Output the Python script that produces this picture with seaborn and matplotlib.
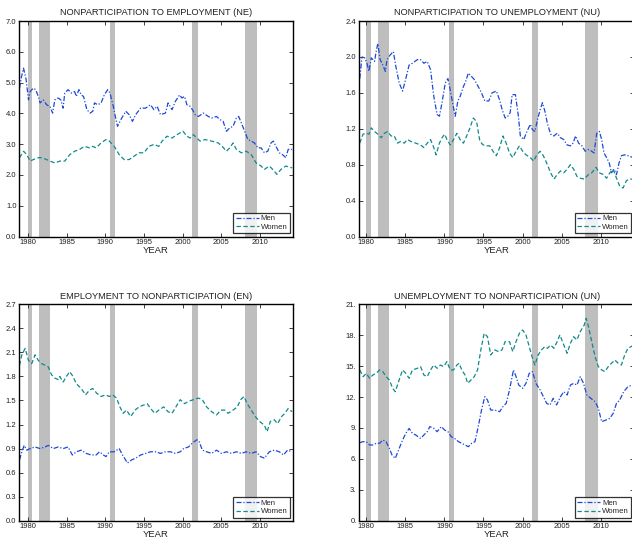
import numpy as np
import pandas as pd
import matplotlib
matplotlib.use('Agg')
import matplotlib.pyplot as plt
import seaborn as sns

# recession bands (years)
recessions = [(1980.0, 1980.55), (1981.5, 1982.9), (1990.55, 1991.25),
              (2001.2, 2001.95), (2008.0, 2009.6)]

# NE: nonparticipation to employment
ne_men_year = [1978.93, 1979.15, 1979.45, 1979.79, 1980.09, 1980.30, 1980.72, 1981.02, 1981.36, 1981.58,
               1982.00, 1982.43, 1982.85, 1983.20, 1983.49, 1983.92, 1984.26, 1984.56, 1984.77, 1985.20,
               1985.62, 1986.05, 1986.26, 1986.60, 1986.90, 1987.20, 1987.63, 1988.05, 1988.39, 1988.61,
               1989.03, 1989.46, 1989.88, 1990.31, 1990.61, 1991.04, 1991.38, 1991.59, 1992.02, 1992.65,
               1993.08, 1993.51, 1993.93, 1994.57, 1995.21, 1995.85, 1996.28, 1996.70, 1997.13, 1997.77,
               1998.11, 1998.62, 1999.05, 1999.60, 1999.90, 2000.24, 2000.54, 2000.96, 2001.26, 2001.60,
               2002.03, 2002.67, 2003.31, 2003.73, 2004.37, 2004.80, 2005.22, 2005.65, 2006.08, 2006.50,
               2006.93, 2007.23, 2007.57, 2008.00, 2008.42, 2008.85, 2009.27, 2009.70, 2010.12, 2010.55,
               2010.98, 2011.40, 2011.70, 2012.04, 2012.47, 2012.89, 2013.32, 2013.62, 2014.13]
ne_men = [4.82, 5.15, 5.47, 5.09, 4.44, 4.71, 4.82, 4.77, 4.55, 4.34,
          4.44, 4.28, 4.23, 4.01, 4.44, 4.50, 4.44, 4.17, 4.66, 4.77,
          4.66, 4.71, 4.55, 4.77, 4.60, 4.55, 4.12, 4.01, 4.07, 4.34,
          4.28, 4.34, 4.60, 4.77, 4.66, 4.23, 3.80, 3.58, 3.80, 4.07,
          3.96, 3.74, 3.96, 4.17, 4.17, 4.28, 4.12, 4.23, 3.96, 4.01,
          4.34, 4.12, 4.39, 4.60, 4.50, 4.55, 4.28, 4.23, 4.12, 3.96,
          3.90, 4.01, 3.90, 3.85, 3.90, 3.80, 3.74, 3.42, 3.53, 3.58,
          3.85, 3.90, 3.69, 3.42, 3.15, 3.10, 3.04, 2.88, 2.88, 2.72,
          2.77, 3.04, 3.10, 2.93, 2.72, 2.66, 2.56, 2.83, 2.83]
ne_women_year = [1978.93, 1979.45, 1979.87, 1980.30, 1980.72, 1981.36, 1981.79, 1982.43, 1982.85, 1983.49,
                 1984.13, 1984.77, 1985.41, 1986.05, 1986.69, 1987.33, 1987.97, 1988.39, 1988.82, 1989.46,
                 1990.10, 1990.52, 1991.16, 1991.80, 1992.44, 1993.08, 1993.72, 1994.36, 1995.00, 1995.64,
                 1996.28, 1996.92, 1997.34, 1997.98, 1998.62, 1999.26, 2000.03, 2000.54, 2000.96, 2001.39,
                 2001.82, 2002.24, 2002.88, 2003.73, 2004.59, 2005.10, 2005.65, 2006.08, 2006.50, 2006.93,
                 2007.57, 2008.21, 2008.85, 2009.48, 2010.12, 2010.55, 2011.19, 2011.62, 2012.17, 2012.68,
                 2013.32, 2014.13]
ne_women = [2.56, 2.77, 2.66, 2.45, 2.50, 2.56, 2.56, 2.50, 2.45, 2.39,
            2.45, 2.45, 2.66, 2.77, 2.83, 2.93, 2.88, 2.93, 2.88, 3.04,
            3.15, 3.10, 2.93, 2.66, 2.50, 2.50, 2.61, 2.72, 2.72, 2.93,
            2.99, 2.93, 3.10, 3.26, 3.20, 3.31, 3.42, 3.26, 3.20, 3.31,
            3.20, 3.10, 3.15, 3.10, 3.04, 2.93, 2.77, 2.88, 3.04, 2.83,
            2.72, 2.77, 2.66, 2.39, 2.29, 2.18, 2.29, 2.18, 2.02, 2.18,
            2.29, 2.23]

# NU: nonparticipation to unemployment
nu_men_year = [1979.16, 1979.45, 1979.79, 1980.08, 1980.34, 1980.63, 1981.05, 1981.26, 1981.47, 1981.77,
               1982.11, 1982.44, 1982.65, 1983.03, 1983.46, 1983.79, 1984.21, 1984.64, 1985.06, 1985.48,
               1985.90, 1986.53, 1986.95, 1987.37, 1987.80, 1988.22, 1988.64, 1989.06, 1989.36, 1989.69,
               1990.11, 1990.45, 1990.75, 1991.04, 1991.38, 1991.72, 1992.01, 1992.43, 1992.73, 1993.06,
               1993.49, 1993.82, 1994.33, 1994.75, 1995.17, 1995.68, 1996.10, 1996.65, 1997.07, 1997.40,
               1997.78, 1998.12, 1998.42, 1998.67, 1999.09, 1999.47, 1999.72, 2000.15, 2000.57, 2000.99,
               2001.28, 2001.58, 2001.91, 2002.25, 2002.55, 2002.88, 2003.18, 2003.60, 2004.02, 2004.44,
               2004.86, 2005.28, 2005.71, 2006.13, 2006.46, 2006.80, 2007.18, 2007.60, 2008.02, 2008.44,
               2008.86, 2009.16, 2009.50, 2009.84, 2010.13, 2010.43, 2010.76, 2011.10, 2011.39, 2011.73,
               2012.03, 2012.36, 2012.66, 2013.08, 2013.50, 2014.15]
nu_men = [1.76, 2.00, 1.99, 1.93, 1.84, 1.99, 1.95, 2.06, 2.15, 1.97,
          1.91, 1.84, 1.97, 2.02, 2.06, 1.89, 1.71, 1.62, 1.76, 1.91,
          1.93, 1.97, 1.97, 1.93, 1.95, 1.86, 1.56, 1.36, 1.34, 1.49,
          1.71, 1.76, 1.63, 1.49, 1.34, 1.51, 1.56, 1.67, 1.73, 1.82,
          1.78, 1.75, 1.67, 1.60, 1.51, 1.51, 1.60, 1.62, 1.52, 1.41,
          1.32, 1.34, 1.38, 1.58, 1.58, 1.34, 1.12, 1.08, 1.17, 1.25,
          1.19, 1.17, 1.30, 1.41, 1.49, 1.39, 1.26, 1.14, 1.12, 1.15,
          1.10, 1.08, 1.02, 1.01, 1.04, 1.12, 1.04, 1.01, 0.95, 0.97,
          0.95, 0.93, 1.15, 1.17, 1.08, 0.93, 0.88, 0.82, 0.71, 0.75,
          0.69, 0.82, 0.90, 0.91, 0.90, 0.88]
nu_women_year = [1979.16, 1979.58, 1980.00, 1980.34, 1980.63, 1981.05, 1981.47, 1981.90, 1982.32, 1982.74,
                 1983.16, 1983.58, 1984.00, 1984.42, 1984.85, 1985.27, 1985.69, 1986.32, 1986.95, 1987.37,
                 1987.80, 1988.22, 1988.64, 1988.93, 1989.36, 1989.69, 1990.03, 1990.32, 1990.75, 1991.17,
                 1991.59, 1992.01, 1992.43, 1992.85, 1993.27, 1993.70, 1994.12, 1994.54, 1994.96, 1995.38,
                 1995.80, 1996.22, 1996.65, 1997.07, 1997.49, 1997.91, 1998.33, 1998.75, 1999.17, 1999.60,
                 2000.02, 2000.44, 2000.99, 2001.41, 2001.83, 2002.25, 2002.67, 2003.18, 2003.60, 2004.02,
                 2004.44, 2004.86, 2005.28, 2005.71, 2006.13, 2006.55, 2006.97, 2007.39, 2007.90, 2008.44,
                 2008.86, 2009.41, 2009.84, 2010.34, 2010.76, 2011.18, 2011.61, 2012.03, 2012.45, 2012.87,
                 2013.29, 2013.63, 2014.15]
nu_women = [1.04, 1.14, 1.15, 1.14, 1.21, 1.17, 1.14, 1.10, 1.15, 1.17,
            1.12, 1.12, 1.04, 1.06, 1.04, 1.08, 1.06, 1.04, 1.02, 0.99,
            1.04, 1.08, 0.99, 0.91, 1.04, 1.10, 1.14, 1.08, 1.02, 1.08,
            1.15, 1.08, 1.04, 1.12, 1.21, 1.32, 1.28, 1.06, 1.02, 1.01,
            1.01, 0.95, 0.90, 0.99, 1.12, 1.04, 0.93, 0.88, 0.95, 1.01,
            0.95, 0.91, 0.88, 0.84, 0.91, 0.95, 0.90, 0.80, 0.71, 0.64,
            0.69, 0.73, 0.71, 0.75, 0.80, 0.75, 0.67, 0.65, 0.64, 0.69,
            0.71, 0.77, 0.71, 0.69, 0.65, 0.71, 0.75, 0.65, 0.56, 0.54,
            0.62, 0.64, 0.64]

# EN: employment to nonparticipation
en_men_year = [1978.93, 1979.23, 1979.53, 1979.87, 1980.30, 1980.94, 1981.58, 1982.22, 1982.64, 1983.28,
               1983.92, 1984.56, 1985.20, 1985.75, 1986.26, 1986.90, 1987.54, 1988.18, 1988.82, 1989.25,
               1989.76, 1990.10, 1990.52, 1991.16, 1991.80, 1992.23, 1992.87, 1993.42, 1993.93, 1994.57,
               1995.21, 1995.85, 1996.49, 1997.13, 1997.77, 1998.41, 1999.05, 1999.68, 2000.11, 2000.75,
               2001.26, 2001.82, 2002.11, 2002.54, 2003.09, 2003.73, 2004.37, 2005.01, 2005.65, 2006.29,
               2006.93, 2007.57, 2008.21, 2008.85, 2009.48, 2010.04, 2010.55, 2011.19, 2011.83, 2012.47,
               2013.02, 2013.53, 2014.13]
en_men = [0.76, 0.86, 0.94, 0.88, 0.90, 0.92, 0.90, 0.92, 0.94, 0.90,
          0.92, 0.90, 0.92, 0.82, 0.86, 0.88, 0.84, 0.82, 0.82, 0.86,
          0.82, 0.80, 0.86, 0.86, 0.90, 0.82, 0.72, 0.76, 0.78, 0.82,
          0.84, 0.86, 0.86, 0.84, 0.86, 0.86, 0.84, 0.86, 0.90, 0.92,
          0.97, 1.01, 0.99, 0.88, 0.86, 0.84, 0.88, 0.84, 0.86, 0.84,
          0.86, 0.84, 0.86, 0.84, 0.86, 0.80, 0.78, 0.86, 0.88, 0.86,
          0.82, 0.88, 0.86]
en_women_year = [1978.93, 1979.23, 1979.66, 1980.09, 1980.51, 1980.94, 1981.36, 1981.79, 1982.22, 1982.64,
                 1983.07, 1983.49, 1983.92, 1984.13, 1984.56, 1984.99, 1985.41, 1985.84, 1986.26, 1986.90,
                 1987.46, 1987.97, 1988.39, 1988.91, 1989.46, 1990.01, 1990.52, 1990.95, 1991.46, 1991.89,
                 1992.31, 1992.74, 1993.29, 1993.85, 1994.36, 1994.87, 1995.42, 1995.85, 1996.40, 1996.92,
                 1997.55, 1998.11, 1998.62, 1999.13, 1999.68, 2000.24, 2000.75, 2001.39, 2002.03, 2002.54,
                 2003.09, 2003.73, 2004.37, 2004.93, 2005.44, 2005.86, 2006.50, 2007.06, 2007.48, 2007.91,
                 2008.33, 2008.85, 2009.36, 2009.91, 2010.55, 2010.89, 2011.32, 2011.83, 2012.25, 2012.77,
                 2013.19, 2013.62, 2014.13]
en_women = [1.94, 2.07, 2.15, 2.00, 1.96, 2.07, 2.00, 1.96, 1.94, 1.92,
            1.82, 1.78, 1.76, 1.80, 1.73, 1.80, 1.86, 1.80, 1.71, 1.65,
            1.57, 1.63, 1.65, 1.59, 1.55, 1.57, 1.55, 1.57, 1.53, 1.42,
            1.34, 1.38, 1.30, 1.38, 1.42, 1.44, 1.46, 1.40, 1.34, 1.38,
            1.42, 1.36, 1.34, 1.42, 1.51, 1.46, 1.49, 1.51, 1.53, 1.51,
            1.42, 1.36, 1.32, 1.38, 1.38, 1.34, 1.38, 1.42, 1.51, 1.55,
            1.46, 1.38, 1.30, 1.24, 1.19, 1.11, 1.24, 1.26, 1.21, 1.30,
            1.34, 1.40, 1.36]

# UN: unemployment to nonparticipation
un_men_year = [1979.16, 1979.58, 1980.00, 1980.42, 1980.84, 1981.26, 1981.69, 1982.11, 1982.53, 1982.95,
               1983.29, 1983.71, 1984.13, 1984.64, 1985.06, 1985.48, 1985.90, 1986.32, 1986.95, 1987.37,
               1987.80, 1988.13, 1988.64, 1989.06, 1989.61, 1990.03, 1990.45, 1990.87, 1991.29, 1991.80,
               1992.22, 1992.64, 1993.06, 1993.49, 1993.91, 1994.33, 1994.75, 1995.17, 1995.51, 1995.93,
               1996.43, 1997.07, 1997.49, 1997.91, 1998.33, 1998.84, 1999.17, 1999.51, 2000.02, 2000.44,
               2000.86, 2001.28, 2001.71, 2002.25, 2002.67, 2003.09, 2003.51, 2003.93, 2004.36, 2004.86,
               2005.28, 2005.71, 2006.13, 2006.55, 2006.97, 2007.39, 2007.81, 2008.23, 2008.74, 2009.29,
               2009.71, 2010.13, 2010.68, 2011.18, 2011.61, 2012.03, 2012.45, 2012.95, 2013.50, 2014.15]
un_men = [7.57, 7.67, 7.67, 7.35, 7.35, 7.51, 7.51, 7.83, 7.67, 7.02,
          6.38, 6.05, 6.86, 7.83, 8.48, 8.96, 8.48, 8.32, 7.99, 8.32,
          8.64, 9.13, 8.96, 8.64, 9.13, 8.80, 8.64, 8.16, 7.99, 7.67,
          7.51, 7.35, 7.18, 7.51, 7.67, 9.13, 10.74, 12.04, 11.72, 10.74,
          10.74, 10.58, 11.07, 11.39, 12.69, 14.63, 13.98, 13.17, 12.85, 13.33,
          14.30, 14.47, 13.33, 12.69, 12.04, 11.39, 11.23, 11.88, 11.23, 12.04,
          12.52, 12.20, 13.17, 13.33, 13.17, 13.98, 13.33, 12.20, 11.88, 11.55,
          10.91, 9.61, 9.77, 9.94, 10.42, 11.39, 11.72, 12.52, 13.01, 13.20]
un_women_year = [1979.16, 1979.58, 1980.00, 1980.42, 1980.84, 1981.26, 1981.69, 1982.11, 1982.53, 1982.95,
                 1983.37, 1983.71, 1984.13, 1984.64, 1985.06, 1985.48, 1985.90, 1986.53, 1986.95, 1987.37,
                 1987.80, 1988.22, 1988.64, 1989.06, 1989.48, 1989.90, 1990.32, 1990.75, 1991.17, 1991.59,
                 1991.88, 1992.22, 1992.64, 1992.98, 1993.40, 1993.82, 1994.24, 1994.66, 1995.09, 1995.51,
                 1995.93, 1996.43, 1996.94, 1997.36, 1997.78, 1998.33, 1998.75, 1999.17, 1999.60, 2000.02,
                 2000.44, 2000.86, 2001.28, 2001.58, 2002.00, 2002.42, 2002.84, 2003.18, 2003.60, 2004.02,
                 2004.44, 2004.78, 2005.20, 2005.71, 2006.13, 2006.55, 2006.97, 2007.39, 2007.90, 2008.15,
                 2008.45, 2008.86, 2009.29, 2009.71, 2010.13, 2010.55, 2010.97, 2011.39, 2011.82, 2012.24,
                 2012.66, 2013.08, 2013.50, 2014.15]
un_women = [14.63, 13.98, 14.30, 13.82, 14.14, 14.30, 14.63, 14.47, 13.98, 13.66,
            12.85, 12.52, 13.50, 14.63, 14.30, 13.82, 14.63, 14.79, 14.95, 14.14,
            13.98, 14.63, 15.11, 14.79, 15.11, 14.95, 15.44, 14.63, 14.63, 15.11,
            15.28, 14.63, 14.14, 13.33, 13.66, 13.98, 14.63, 16.57, 18.19, 17.86,
            16.08, 16.57, 16.41, 16.57, 17.38, 17.38, 16.41, 17.38, 18.19, 18.51,
            18.03, 16.89, 15.76, 15.11, 16.08, 16.57, 16.89, 16.73, 17.05, 16.73,
            17.38, 18.03, 17.22, 16.25, 17.22, 17.86, 17.54, 18.35, 18.99, 19.64,
            18.83, 17.38, 15.92, 14.95, 14.63, 14.47, 14.95, 15.28, 15.60, 15.28,
            15.11, 16.08, 16.73, 17.00]

ne_ticks = [0.0, 1.0, 2.0, 3.0, 4.0, 5.0, 6.0, 7.0]
nu_ticks = [0.0, 0.4, 0.8, 1.2, 1.6, 2.0, 2.4]
en_ticks = [0.0, 0.3, 0.6, 0.9, 1.2, 1.5, 1.8, 2.1, 2.4, 2.7]
un_ticks = [0, 3, 6, 9, 12, 15, 18, 21]
year_ticks = [1980, 1985, 1990, 1995, 2000, 2005, 2010]

sns.set_style('ticks')
plt.rcParams['font.family'] = ['Liberation Sans', 'DejaVu Sans']

MEN_C = '#1c4ad8'
WOMEN_C = '#108a8a'

fig = plt.figure(figsize=(6.32, 5.41), dpi=100)

# right-hand panels run off the right edge, as in the original
panels = [
    ('NONPARTICIPATION TO EMPLOYMENT (NE)', ne_men_year, ne_men, ne_women_year, ne_women,
     ne_ticks, '%.1f', [0.0305, 0.5628, 0.4326, 0.3983], (1978.9, 2014.2)),
    ('NONPARTICIPATION TO UNEMPLOYMENT (NU)', nu_men_year, nu_men, nu_women_year, nu_women,
     nu_ticks, '%.1f', [0.5685, 0.5628, 0.4350, 0.3983], (1979.1, 2014.3)),
    ('EMPLOYMENT TO NONPARTICIPATION (EN)', en_men_year, en_men, en_women_year, en_women,
     en_ticks, '%.1f', [0.0305, 0.0375, 0.4326, 0.4000], (1978.9, 2014.2)),
    ('UNEMPLOYMENT TO NONPARTICIPATION (UN)', un_men_year, un_men, un_women_year, un_women,
     un_ticks, '%d.', [0.5685, 0.0375, 0.4350, 0.4000], (1979.1, 2014.3)),
]

for title, my, mv, wy, wv, yt, fmt, pos, xl in panels:
    ax = fig.add_axes(pos)
    for a, b in recessions:
        ax.axvspan(a, b, color='#bebebe', lw=0, zorder=0)
    men_df = pd.DataFrame({'year': my, 'rate': mv})
    women_df = pd.DataFrame({'year': wy, 'rate': wv})
    sns.lineplot(data=men_df, x='year', y='rate', ax=ax, color=MEN_C, lw=0.9,
                 linestyle=(0, (4, 1.5, 1, 1.5)), label='Men')
    sns.lineplot(data=women_df, x='year', y='rate', ax=ax, color=WOMEN_C, lw=0.9,
                 linestyle=(0, (3.5, 2)), label='Women')
    ax.set_xlim(*xl)
    ax.set_ylim(yt[0], yt[-1])
    ax.set_xticks(year_ticks)
    ax.set_yticks(yt)
    ax.set_yticklabels([fmt % v for v in yt])
    ax.tick_params(direction='in', top=True, right=True, length=3, width=0.6,
                   labelsize=5.5, pad=2, colors='#222222')
    for s in ax.spines.values():
        s.set_linewidth(1.0)
        s.set_color('black')
    ax.set_title(title, fontsize=6.7, pad=4, color='#222222')
    ax.set_xlabel('YEAR', fontsize=6.8, labelpad=0, color='#222222')
    ax.set_ylabel('')
    leg = ax.legend(loc='lower right', fontsize=5.6, frameon=True, fancybox=False,
                    borderpad=0.3, handlelength=3.0, handletextpad=0.2,
                    labelspacing=0.15, borderaxespad=0.4)
    leg.get_frame().set_edgecolor('black')
    leg.get_frame().set_linewidth(0.9)

fig.savefig('out.png', dpi=100)
